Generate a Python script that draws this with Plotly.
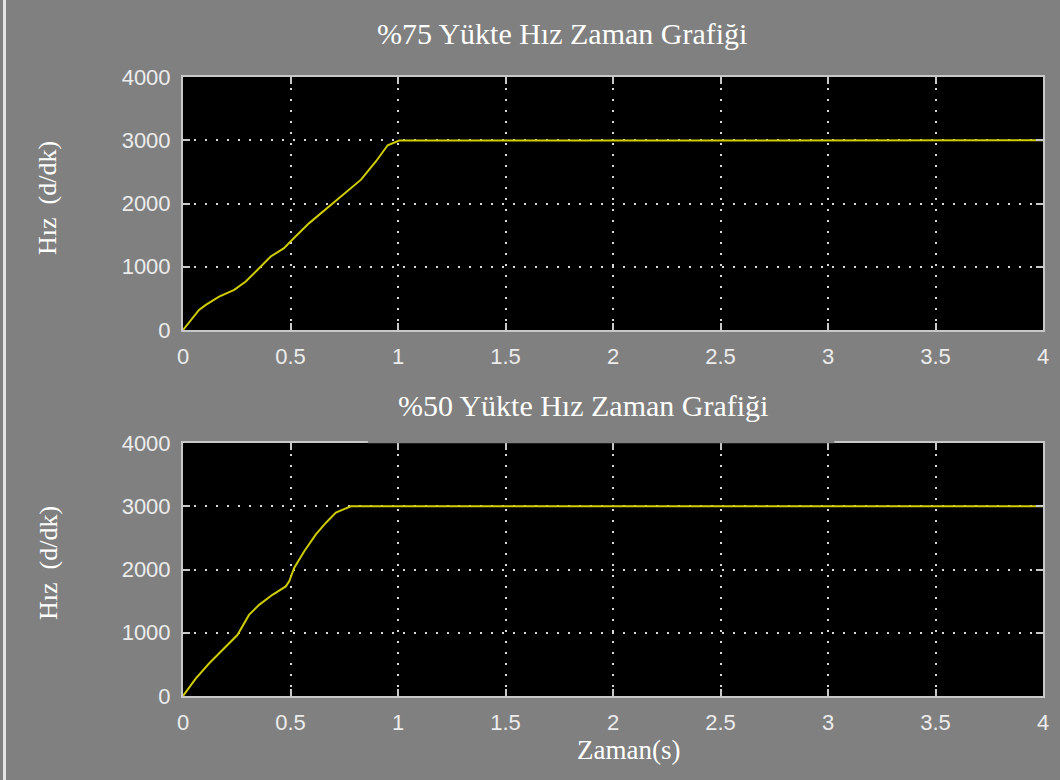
import plotly.graph_objects as go

# --- data ---
t75 = [0, 0.0745, 0.106, 0.168, 0.238, 0.292, 0.354, 0.408, 0.470, 0.5, 0.587, 0.680, 0.758, 0.828, 0.898, 0.952, 1.006, 4.0]
v75 = [0, 317, 396, 528, 634, 766, 977, 1162, 1294, 1400, 1690, 1955, 2166, 2377, 2668, 2921, 2995, 3000]

t50 = [0, 0.059, 0.121, 0.183, 0.253, 0.307, 0.354, 0.416, 0.478, 0.494, 0.517, 0.564, 0.618, 0.665, 0.711, 0.781, 4.0]
v50 = [0, 276, 514, 726, 964, 1282, 1441, 1600, 1733, 1812, 2024, 2289, 2554, 2740, 2899, 3000, 3000]

x_ticks = [0, 0.5, 1, 1.5, 2, 2.5, 3, 3.5, 4]
x_tick_text = ["0", "0.5", "1", "1.5", "2", "2.5", "3", "3.5", "4"]
y_ticks = [0, 1000, 2000, 3000, 4000]
y_tick_text = ["0", "1000", "2000", "3000", "4000"]

title_top = "%75 Yükte Hız Zaman Grafiği"
title_bottom = "%50 Yükte Hız Zaman Grafiği"
x_title = "Zaman(s)"
y_title = "Hız  (d/dk)"

# --- geometry (pixels) ---
W, H = 1060, 780
ML, MR, MT, MB = 183, 17, 77, 84
PW = W - ML - MR
PH = H - MT - MB

def px_x(px):
    return (px - ML) / PW

def px_y(py):
    return (H - MB - py) / PH

LINE = "#cfcc00"
AXC = "#c8c8c8"
TXT = "#ececec"
GRID = "#d8d8d8"
BG = "#808080"

fig = go.Figure()
fig.add_trace(go.Scatter(x=t75, y=v75, mode="lines", line=dict(color=LINE, width=2),
                         xaxis="x", yaxis="y", showlegend=False))
fig.add_trace(go.Scatter(x=t50, y=v50, mode="lines", line=dict(color=LINE, width=2),
                         xaxis="x2", yaxis="y2", showlegend=False))

tickfont = dict(family="Liberation Sans, Arial, sans-serif", size=22, color=TXT)

def xaxis(anchor):
    return dict(range=[0, 4], tickvals=x_ticks, ticktext=x_tick_text, anchor=anchor,
                showgrid=True, gridcolor=GRID, gridwidth=2, griddash="2px,9px",
                zeroline=False, showline=True, linecolor=AXC, linewidth=2,
                mirror="ticks", ticks="inside", ticklen=7, tickcolor=AXC, tickwidth=2,
                tickfont=tickfont, ticklabelstandoff=6, domain=[0, 1])

def yaxis(anchor, dom):
    return dict(range=[0, 4000], tickvals=y_ticks, ticktext=y_tick_text, anchor=anchor,
                showgrid=True, gridcolor=GRID, gridwidth=2, griddash="2px,9px",
                zeroline=False, showline=True, linecolor=AXC, linewidth=2,
                mirror="ticks", ticks="inside", ticklen=7, tickcolor=AXC, tickwidth=2,
                tickfont=tickfont, ticklabelstandoff=6, domain=dom)

top_dom = [px_y(330), 1.0]
bot_dom = [0.0, px_y(443)]

serif_family = "Liberation Serif, Times New Roman, serif"
title_font = dict(family=serif_family, size=30, color="#ffffff")
xlab_font = dict(family=serif_family, size=27, color="#ffffff")
ylab_font = dict(family=serif_family, size=26, color="#ffffff")

annotations = [
    dict(text=title_top, x=px_x(562), y=px_y(33), xref="paper", yref="paper",
         showarrow=False, font=title_font, xanchor="center", yanchor="middle"),
    dict(text=title_bottom, x=px_x(583), y=px_y(405), xref="paper", yref="paper",
         showarrow=False, font=title_font, xanchor="center", yanchor="middle"),
    dict(text=x_title, x=px_x(628), y=px_y(750), xref="paper", yref="paper",
         showarrow=False, font=xlab_font, xanchor="center", yanchor="middle"),
    dict(text=y_title, x=px_x(48), y=px_y(198), xref="paper", yref="paper", textangle=-90,
         showarrow=False, font=ylab_font, xanchor="center", yanchor="middle"),
    dict(text=y_title, x=px_x(48), y=px_y(563), xref="paper", yref="paper", textangle=-90,
         showarrow=False, font=ylab_font, xanchor="center", yanchor="middle"),
]

shapes = [
    # light strip at the left edge of the picture
    dict(type="rect", xref="paper", yref="paper", x0=px_x(3), x1=px_x(6), y0=px_y(H), y1=px_y(0),
         fillcolor="#e4e4e4", line=dict(width=0), layer="below"),
    # gap in the top border of the lower plot
    dict(type="line", xref="x2", yref="paper", x0=0.86, x1=3.03, y0=px_y(442), y1=px_y(442),
         line=dict(color=BG, width=2.5), layer="above"),
]

fig.update_layout(
    width=W, height=H,
    margin=dict(l=ML, r=MR, t=MT, b=MB),
    paper_bgcolor=BG, plot_bgcolor="#000000",
    xaxis=xaxis("y"), yaxis=yaxis("x", top_dom),
    xaxis2=xaxis("y2"), yaxis2=yaxis("x2", bot_dom),
    annotations=annotations, shapes=shapes,
    showlegend=False,
)

fig.write_html("out.html", config={"displayModeBar": False},
               post_script="document.body.style.margin='0';document.body.style.padding='0';")
